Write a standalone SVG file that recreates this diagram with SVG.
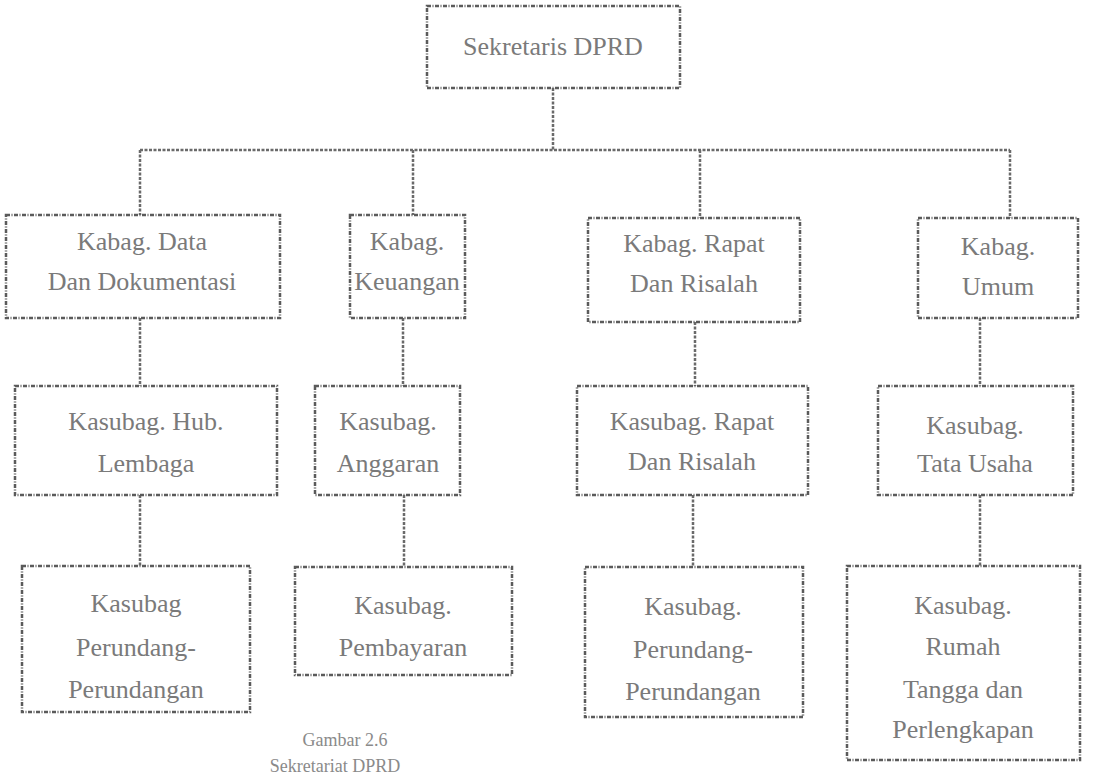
<svg xmlns="http://www.w3.org/2000/svg" width="1093" height="782" viewBox="0 0 1093 782">
  <style>
    .box { fill: none; stroke: #5a5a5a; stroke-width: 2.5; stroke-dasharray: 4 1.5 1 1.5; }
    .line { fill: none; stroke: #6a6a6a; stroke-width: 2.5; stroke-dasharray: 3 1.5; }
    .t { font-family: 'Liberation Serif', 'Times New Roman', Times, serif; font-size: 26px; fill: #7a7a7a; text-anchor: middle; }
    .cap { font-family: 'Liberation Serif', 'Times New Roman', Times, serif; font-size: 18px; fill: #8a8a8a; text-anchor: middle; }
  </style>
  <rect width="1093" height="782" fill="#ffffff"/>

  <!-- connectors -->
  <g id="connectors">
    <path class="line" d="M553 88 V150"/>
    <path class="line" d="M140 150 H1010"/>
    <path class="line" d="M140 150 V215"/>
    <path class="line" d="M413 150 V215"/>
    <path class="line" d="M700 150 V218"/>
    <path class="line" d="M1010 150 V218"/>
    <path class="line" d="M140 318 V386"/>
    <path class="line" d="M403 318 V386"/>
    <path class="line" d="M695 322 V386"/>
    <path class="line" d="M980 318 V386"/>
    <path class="line" d="M140 495 V566"/>
    <path class="line" d="M404 495 V567"/>
    <path class="line" d="M693 495 V567"/>
    <path class="line" d="M980 495 V566"/>
  </g>

  <!-- top -->
  <g id="sekretaris">
    <rect class="box" x="427" y="6" width="253" height="82"/>
    <text class="t" x="553" y="55">Sekretaris DPRD</text>
  </g>

  <!-- row 1 -->
  <g id="kabag-data">
    <rect class="box" x="6" y="215" width="274" height="103"/>
    <text class="t" x="142" y="250">Kabag. Data</text>
    <text class="t" x="142" y="290">Dan Dokumentasi</text>
  </g>
  <g id="kabag-keuangan">
    <rect class="box" x="350" y="215" width="115" height="103"/>
    <text class="t" x="407" y="250">Kabag.</text>
    <text class="t" x="407" y="290">Keuangan</text>
  </g>
  <g id="kabag-rapat">
    <rect class="box" x="588" y="218" width="212" height="104"/>
    <text class="t" x="694" y="252">Kabag. Rapat</text>
    <text class="t" x="694" y="292">Dan Risalah</text>
  </g>
  <g id="kabag-umum">
    <rect class="box" x="918" y="218" width="160" height="100"/>
    <text class="t" x="998" y="255">Kabag.</text>
    <text class="t" x="998" y="295">Umum</text>
  </g>

  <!-- row 2 -->
  <g id="kasubag-hub">
    <rect class="box" x="15" y="386" width="262" height="109"/>
    <text class="t" x="146" y="430">Kasubag. Hub.</text>
    <text class="t" x="146" y="472">Lembaga</text>
  </g>
  <g id="kasubag-anggaran">
    <rect class="box" x="315" y="386" width="145" height="109"/>
    <text class="t" x="388" y="430">Kasubag.</text>
    <text class="t" x="388" y="472">Anggaran</text>
  </g>
  <g id="kasubag-rapat">
    <rect class="box" x="577" y="386" width="231" height="109"/>
    <text class="t" x="692" y="430">Kasubag. Rapat</text>
    <text class="t" x="692" y="470">Dan Risalah</text>
  </g>
  <g id="kasubag-tu">
    <rect class="box" x="878" y="386" width="195" height="109"/>
    <text class="t" x="975" y="434">Kasubag.</text>
    <text class="t" x="975" y="472">Tata Usaha</text>
  </g>

  <!-- row 3 -->
  <g id="kasubag-perundangan-1">
    <rect class="box" x="22" y="566" width="228" height="146"/>
    <text class="t" x="136" y="612">Kasubag</text>
    <text class="t" x="136" y="656">Perundang-</text>
    <text class="t" x="136" y="698">Perundangan</text>
  </g>
  <g id="kasubag-pembayaran">
    <rect class="box" x="295" y="567" width="217" height="108"/>
    <text class="t" x="403" y="614">Kasubag.</text>
    <text class="t" x="403" y="656">Pembayaran</text>
  </g>
  <g id="kasubag-perundangan-2">
    <rect class="box" x="585" y="567" width="218" height="150"/>
    <text class="t" x="693" y="615">Kasubag.</text>
    <text class="t" x="693" y="658">Perundang-</text>
    <text class="t" x="693" y="700">Perundangan</text>
  </g>
  <g id="kasubag-rt">
    <rect class="box" x="847" y="566" width="233" height="194"/>
    <text class="t" x="963" y="614">Kasubag.</text>
    <text class="t" x="963" y="655">Rumah</text>
    <text class="t" x="963" y="698">Tangga dan</text>
    <text class="t" x="963" y="738">Perlengkapan</text>
  </g>

  <!-- caption -->
  <text class="cap" x="345" y="746">Gambar 2.6</text>
  <text class="cap" x="335" y="772">Sekretariat DPRD</text>
</svg>
